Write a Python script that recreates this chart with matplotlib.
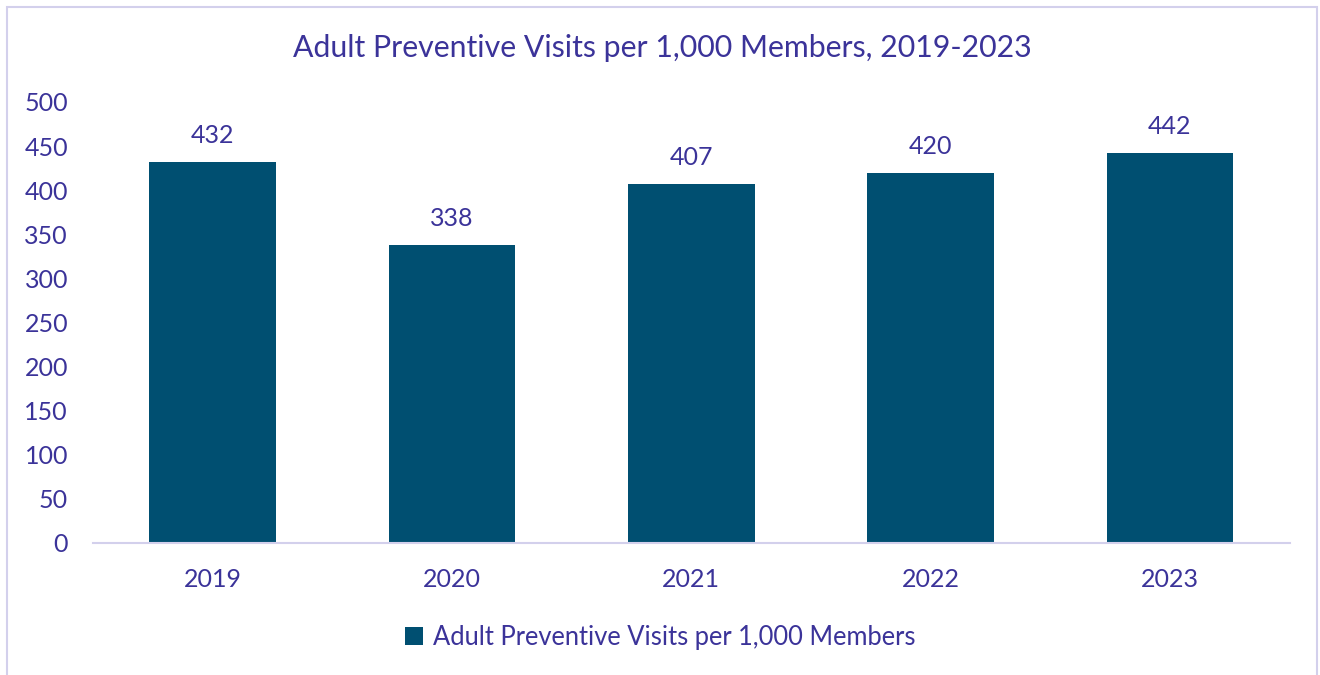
import matplotlib.pyplot as plt
from matplotlib.patches import Rectangle

years = ['2019', '2020', '2021', '2022', '2023']
visits = [432, 338, 407, 420, 442]
series_name = 'Adult Preventive Visits per 1,000 Members'

bar_color = '#004F71'
text_color = '#3B3399'
line_color = '#D3D0EC'

plt.rcParams['font.family'] = ['Lato', 'DejaVu Sans']

fig = plt.figure(figsize=(13.2, 6.75), dpi=100)
ax = fig.add_axes([0.0705, 0.1956, 0.9065, 0.6533])

bars = ax.bar(years, visits, width=0.53, color=bar_color, label=series_name)
for b, v in zip(bars, visits):
    ax.text(b.get_x() + b.get_width() / 2, v + 17, str(v), ha='center', va='bottom',
            fontsize=18, color=text_color)

ax.set_ylim(0, 500)
ax.set_xlim(-0.5, 4.5)
ax.set_yticks(range(0, 501, 50))
ax.tick_params(axis='both', length=0, labelsize=18, colors=text_color)
ax.tick_params(axis='y', pad=18)
ax.tick_params(axis='x', pad=18)
for s in ['top', 'right', 'left']:
    ax.spines[s].set_visible(False)
ax.spines['bottom'].set_color(line_color)
ax.spines['bottom'].set_linewidth(1.5)

fig.text(0.5015, 0.929, 'Adult Preventive Visits per 1,000 Members, 2019-2023',
         ha='center', va='center', fontsize=21.8, color=text_color)

leg = fig.legend(loc='center', bbox_to_anchor=(0.5, 0.056), frameon=False,
                 fontsize=18.4, handlelength=0.7, handleheight=0.7, handletextpad=0.4)
for t in leg.get_texts():
    t.set_color(text_color)

fig.patches.append(Rectangle((7 / 1320, -0.05), 1310 / 1320, 1 - 7 / 675 + 0.05,
                             transform=fig.transFigure, fill=False,
                             edgecolor=line_color, linewidth=1.5))

fig.savefig('out.png', dpi=100)
